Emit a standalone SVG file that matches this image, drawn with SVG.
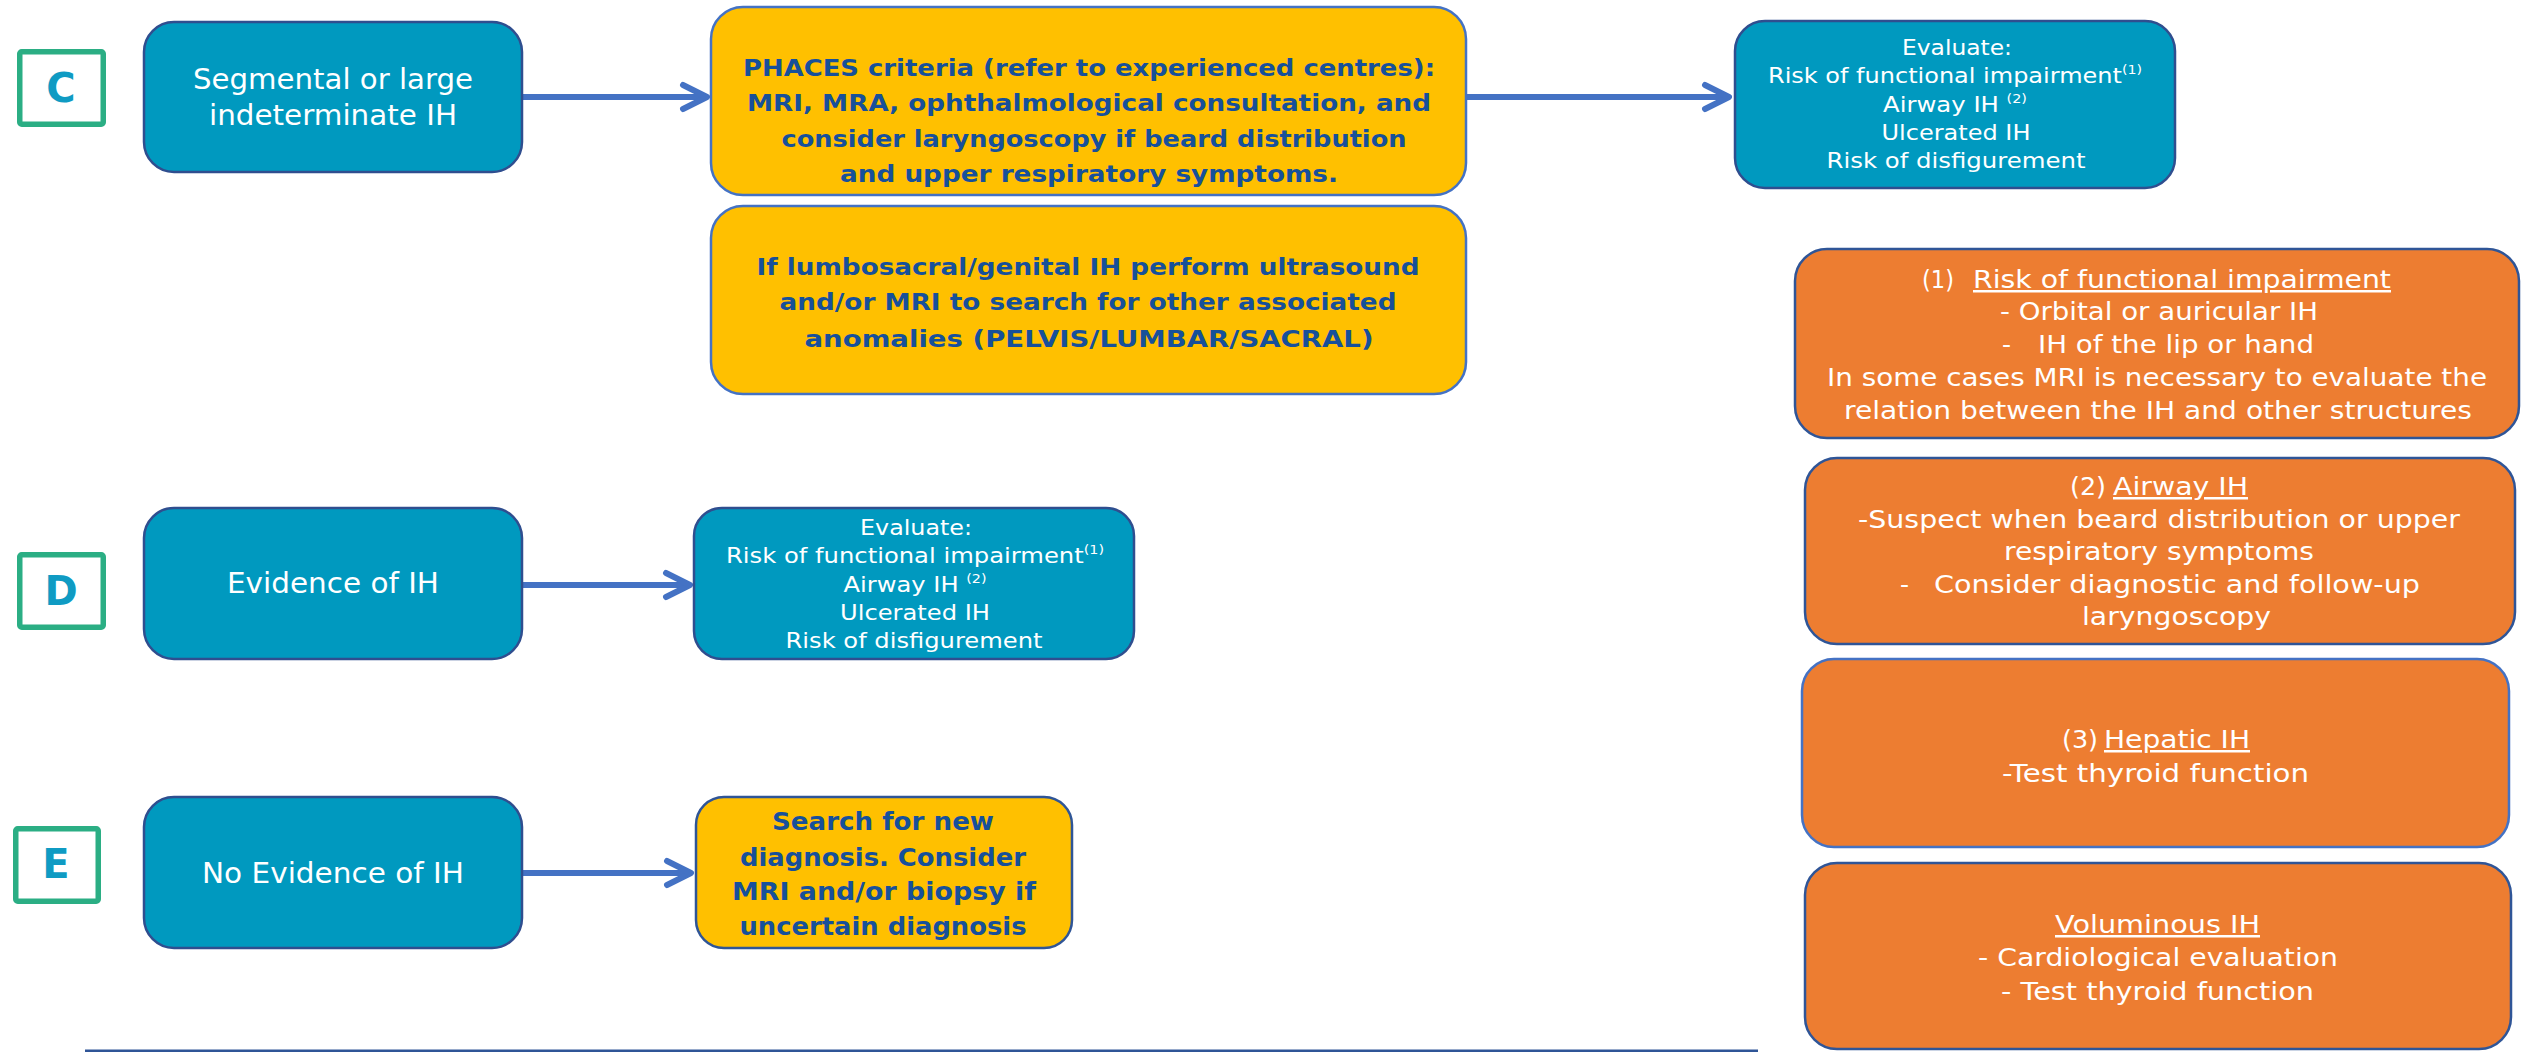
<svg xmlns="http://www.w3.org/2000/svg" width="2521" height="1052" viewBox="0 0 2521 1052">
<style>
text{font-family:"DejaVu Sans","Liberation Sans",sans-serif;}
.teal{fill:#0099BF;stroke:#2F4E8F;stroke-width:2.5;}
.yel{fill:#FFC000;stroke:#4472C4;stroke-width:2.5;}
.yeld{fill:#FFC000;stroke:#2F5597;stroke-width:2.5;}
.org{fill:#ED7D31;stroke:#2F5597;stroke-width:2.5;}
.orgl{fill:#ED7D31;stroke:#4472C4;stroke-width:2.5;}
.lbox{fill:#FFFFFF;stroke:#2BAE84;stroke-width:5.5;}
.lt{fill:#0F9BC3;font-size:40px;font-weight:bold;text-anchor:middle;}
.nt{fill:#FFFFFF;font-size:29px;text-anchor:middle;}
.yt{fill:#17509A;font-size:23.5px;font-weight:bold;text-anchor:middle;}
.st{fill:#17509A;font-size:25px;font-weight:bold;text-anchor:middle;}
.et{fill:#FFFFFF;font-size:22px;text-anchor:middle;}
.sup{font-size:13px;}
.ot{fill:#FFFFFF;font-size:25px;}
.u{text-decoration:underline;}
.conn{stroke:#4472C4;stroke-width:6;fill:none;marker-end:url(#arr);}
</style>
<defs>
<marker id="arr" markerUnits="userSpaceOnUse" markerWidth="34" markerHeight="34" viewBox="-30 -16 34 32" refX="0" refY="0" orient="auto">
<path d="M-24,-12 L0,0 L-24,12" fill="none" stroke="#4472C4" stroke-width="6" stroke-linecap="round" stroke-linejoin="round"/>
</marker>
</defs>

<g id="connectors">
<path class="conn" d="M522,97 L707,97"/>
<path class="conn" d="M1467,97 L1729,97"/>
<path class="conn" d="M522,585 L690,585"/>
<path class="conn" d="M522,873 L691,873"/>
</g>

<g id="label-C">
<rect class="lbox" x="19.75" y="51.75" width="83.5" height="72.5" rx="2"/>
<text class="lt" x="61" y="102">C</text>
</g>
<g id="label-D">
<rect class="lbox" x="19.75" y="554.75" width="83.5" height="72.5" rx="2"/>
<text class="lt" x="61" y="605">D</text>
</g>
<g id="label-E">
<rect class="lbox" x="15.75" y="828.75" width="82.5" height="72.5" rx="2"/>
<text class="lt" x="56" y="878">E</text>
</g>

<g id="node-segmental">
<rect class="teal" x="144" y="22" width="378" height="150" rx="30"/>
<text class="nt" x="333" y="89" textLength="280" lengthAdjust="spacingAndGlyphs">Segmental or large</text>
<text class="nt" x="333" y="125" textLength="248" lengthAdjust="spacingAndGlyphs">indeterminate IH</text>
</g>

<g id="node-phaces">
<rect class="yel" x="711" y="7" width="755" height="188" rx="32"/>
<text class="yt" x="1089" y="76" textLength="692" lengthAdjust="spacingAndGlyphs">PHACES criteria (refer to experienced centres):</text>
<text class="yt" x="1089" y="111" textLength="684" lengthAdjust="spacingAndGlyphs">MRI, MRA, ophthalmological consultation, and</text>
<text class="yt" x="1094" y="147" textLength="625" lengthAdjust="spacingAndGlyphs">consider laryngoscopy if beard distribution</text>
<text class="yt" x="1089" y="182" textLength="498" lengthAdjust="spacingAndGlyphs">and upper respiratory symptoms.</text>
</g>

<g id="node-lumbosacral">
<rect class="yel" x="711" y="206" width="755" height="188" rx="32"/>
<text class="yt" x="1088" y="275" textLength="663" lengthAdjust="spacingAndGlyphs">If lumbosacral/genital IH perform ultrasound</text>
<text class="yt" x="1088" y="310" textLength="617" lengthAdjust="spacingAndGlyphs">and/or MRI to search for other associated</text>
<text class="yt" x="1089" y="347" textLength="569" lengthAdjust="spacingAndGlyphs">anomalies (PELVIS/LUMBAR/SACRAL)</text>
</g>

<g id="node-evaluate-c">
<rect class="teal" x="1735" y="21" width="440" height="167" rx="30"/>
<text class="et" x="1957" y="55" textLength="110" lengthAdjust="spacingAndGlyphs">Evaluate:</text>
<text class="et" x="1955" y="83" textLength="374" lengthAdjust="spacingAndGlyphs">Risk of functional impairment<tspan class="sup" dy="-9">(1)</tspan></text>
<text class="et" x="1955" y="112" textLength="144" lengthAdjust="spacingAndGlyphs">Airway IH <tspan class="sup" dy="-9">(2)</tspan></text>
<text class="et" x="1956" y="140" textLength="149" lengthAdjust="spacingAndGlyphs">Ulcerated IH</text>
<text class="et" x="1956" y="168" textLength="259" lengthAdjust="spacingAndGlyphs">Risk of disfigurement</text>
</g>

<g id="node-evidence">
<rect class="teal" x="144" y="508" width="378" height="151" rx="30"/>
<text class="nt" x="333" y="593" textLength="212" lengthAdjust="spacingAndGlyphs">Evidence of IH</text>
</g>

<g id="node-evaluate-d">
<rect class="teal" x="694" y="508" width="440" height="151" rx="28"/>
<text class="et" x="916" y="535" textLength="112" lengthAdjust="spacingAndGlyphs">Evaluate:</text>
<text class="et" x="915" y="563" textLength="378" lengthAdjust="spacingAndGlyphs">Risk of functional impairment<tspan class="sup" dy="-9">(1)</tspan></text>
<text class="et" x="915" y="592" textLength="143" lengthAdjust="spacingAndGlyphs">Airway IH <tspan class="sup" dy="-9">(2)</tspan></text>
<text class="et" x="915" y="620" textLength="150" lengthAdjust="spacingAndGlyphs">Ulcerated IH</text>
<text class="et" x="914" y="648" textLength="257" lengthAdjust="spacingAndGlyphs">Risk of disfigurement</text>
</g>

<g id="node-no-evidence">
<rect class="teal" x="144" y="797" width="378" height="151" rx="30"/>
<text class="nt" x="333" y="883" textLength="262" lengthAdjust="spacingAndGlyphs">No Evidence of IH</text>
</g>

<g id="node-search">
<rect class="yeld" x="696" y="797" width="376" height="151" rx="28"/>
<text class="st" x="883" y="830" textLength="222" lengthAdjust="spacingAndGlyphs">Search for new</text>
<text class="st" x="883" y="866" textLength="286" lengthAdjust="spacingAndGlyphs">diagnosis. Consider</text>
<text class="st" x="884" y="900" textLength="304" lengthAdjust="spacingAndGlyphs">MRI and/or biopsy if</text>
<text class="st" x="883" y="935" textLength="287" lengthAdjust="spacingAndGlyphs">uncertain diagnosis</text>
</g>

<g id="note-functional">
<rect class="org" x="1795" y="249" width="724" height="189" rx="32"/>
<text class="ot" x="1922" y="288" textLength="32" lengthAdjust="spacingAndGlyphs">(1)</text>
<text class="ot u" x="1973" y="288" textLength="418" lengthAdjust="spacingAndGlyphs">Risk of functional impairment</text>
<text class="ot" x="2000" y="320" textLength="318" lengthAdjust="spacingAndGlyphs">- Orbital or auricular IH</text>
<text class="ot" x="2002" y="353">-</text>
<text class="ot" x="2038" y="353" textLength="276" lengthAdjust="spacingAndGlyphs">IH of the lip or hand</text>
<text class="ot" x="1827" y="386" textLength="660" lengthAdjust="spacingAndGlyphs">In some cases MRI is necessary to evaluate the</text>
<text class="ot" x="1844" y="419" textLength="628" lengthAdjust="spacingAndGlyphs">relation between the IH and other structures</text>
</g>

<g id="note-airway">
<rect class="org" x="1805" y="458" width="710" height="186" rx="32"/>
<text class="ot" x="2070" y="495" textLength="36" lengthAdjust="spacingAndGlyphs">(2)</text>
<text class="ot u" x="2113" y="495" textLength="135" lengthAdjust="spacingAndGlyphs">Airway IH</text>
<text class="ot" x="1858" y="528" textLength="602" lengthAdjust="spacingAndGlyphs">-Suspect when beard distribution or upper</text>
<text class="ot" x="2004" y="560" textLength="310" lengthAdjust="spacingAndGlyphs">respiratory symptoms</text>
<text class="ot" x="1900" y="593">-</text>
<text class="ot" x="1934" y="593" textLength="486" lengthAdjust="spacingAndGlyphs">Consider diagnostic and follow-up</text>
<text class="ot" x="2082" y="625" textLength="189" lengthAdjust="spacingAndGlyphs">laryngoscopy</text>
</g>

<g id="note-hepatic">
<rect class="orgl" x="1802" y="659" width="707" height="188" rx="32"/>
<text class="ot" x="2062" y="748" textLength="36" lengthAdjust="spacingAndGlyphs">(3)</text>
<text class="ot u" x="2104" y="748" textLength="146" lengthAdjust="spacingAndGlyphs">Hepatic IH</text>
<text class="ot" x="2002" y="782" textLength="307" lengthAdjust="spacingAndGlyphs">-Test thyroid function</text>
</g>

<g id="note-voluminous">
<rect class="org" x="1805" y="863" width="706" height="186" rx="32"/>
<text class="ot u" x="2055" y="933" textLength="205" lengthAdjust="spacingAndGlyphs">Voluminous IH</text>
<text class="ot" x="1978" y="966" textLength="360" lengthAdjust="spacingAndGlyphs">- Cardiological evaluation</text>
<text class="ot" x="2001" y="1000" textLength="313" lengthAdjust="spacingAndGlyphs">- Test thyroid function</text>
</g>

<g id="bottom-box">
<path d="M85,1051 L1758,1051" stroke="#2F5597" stroke-width="3" fill="none"/>
</g>
</svg>
